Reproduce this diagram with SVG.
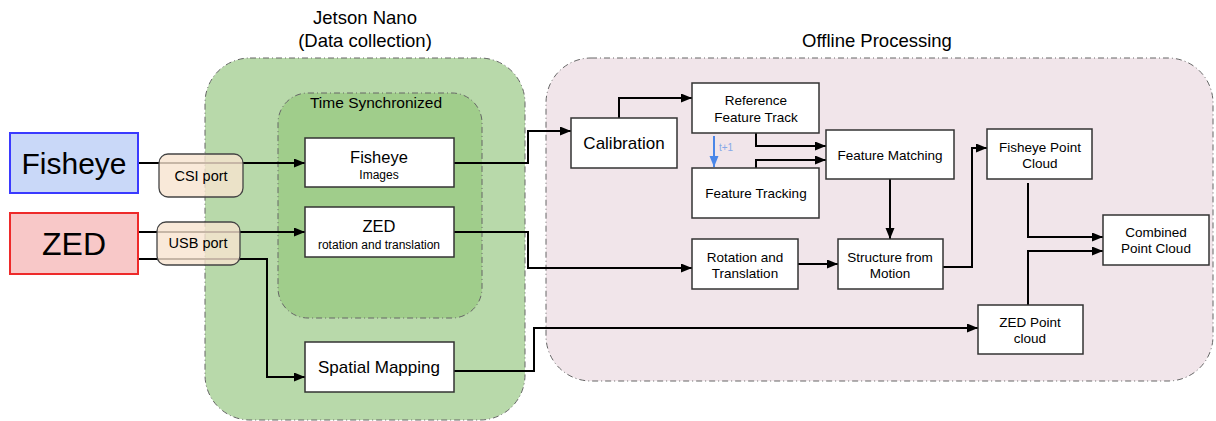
<svg xmlns="http://www.w3.org/2000/svg" width="1216" height="421" viewBox="0 0 1216 421">
<defs>
<marker id="ah" markerUnits="userSpaceOnUse" markerWidth="12" markerHeight="10" refX="11" refY="4.5" orient="auto"><path d="M0,0 L11,4.5 L0,9 z" fill="#000"/></marker>
<marker id="ahb" markerUnits="userSpaceOnUse" markerWidth="12" markerHeight="10" refX="11" refY="4.5" orient="auto"><path d="M0,0 L11,4.5 L0,9 z" fill="#4a86e8"/></marker>
</defs>
<style>
text{font-family:"Liberation Sans",Arial,sans-serif;fill:#000;text-anchor:middle}
.region{stroke:#666;stroke-width:1;stroke-dasharray:6 3 1 3}
.box{fill:#fff;stroke:#333;stroke-width:1.5}
.port{fill:#f8e4d0;fill-opacity:0.8;stroke:#444;stroke-width:1.3}
.c{fill:none;stroke:#000;stroke-width:2;marker-end:url(#ah)}
.t13{font-size:13.5px}
</style>
<g id="regions">
<rect class="region" x="205" y="58" width="320" height="362" rx="45" fill="#b8d9aa"/>
<rect class="region" x="278" y="93" width="204" height="225" rx="30" fill="#a0cd8b"/>
<rect class="region" x="546" y="58" width="667" height="323" rx="45" fill="#f1e5ea"/>
<text x="365" y="24" font-size="18.5">Jetson Nano</text>
<text x="365" y="47" font-size="18.5">(Data collection)</text>
<text x="376" y="108" font-size="15.5">Time Synchronized</text>
<text x="877" y="47" font-size="18.5">Offline Processing</text>
</g>
<g id="connectors">
<path class="c" d="M138,163 H305"/>
<path class="c" d="M138,232 H305"/>
<path class="c" d="M138,259 H267 V377 H305"/>
<path class="c" d="M454,163 H528 V131 H571"/>
<path class="c" d="M454,232 H528 V268 H692"/>
<path class="c" d="M454,371 H534 V328 H978"/>
<path class="c" d="M619,118 V98 H692"/>
<path class="c" d="M756,133 V146 H826"/>
<path class="c" d="M756,168 V160 H826"/>
<path d="M714,136 V167" fill="none" stroke="#4a86e8" stroke-width="2" marker-end="url(#ahb)"/>
<text x="719" y="151" font-size="10" style="fill:#86a9e8;text-anchor:start">t+1</text>
<path class="c" d="M890,179 V239"/>
<path class="c" d="M798,264 H838"/>
<path class="c" d="M943,267 H972 V148 H987"/>
<path class="c" d="M1028,183 V237 H1103"/>
<path class="c" d="M1028,305 V251 H1103"/>
</g>
<g id="csi-port"><rect class="port" x="159" y="154" width="84" height="43" rx="9"/><text x="201" y="181" font-size="14.5">CSI port</text></g>
<g id="usb-port"><rect class="port" x="157" y="222" width="83" height="43" rx="9"/><text x="198" y="248" font-size="14.5">USB port</text></g>
<g id="fisheye-cam"><rect x="10" y="133" width="128" height="60" fill="#c9d8f8" stroke="#3a3aff" stroke-width="2"/><text x="74" y="174" font-size="30">Fisheye</text></g>
<g id="zed-cam"><rect x="10" y="213" width="128" height="61" fill="#f8c8c8" stroke="#ee2a2a" stroke-width="2"/><text x="74" y="255" font-size="32">ZED</text></g>
<g id="fisheye-images"><rect class="box" x="305" y="138" width="149" height="49"/><text x="379" y="163" font-size="16.5">Fisheye</text><text x="379" y="179" font-size="12">Images</text></g>
<g id="zed-rt"><rect class="box" x="305" y="207" width="149" height="50"/><text x="379" y="232" font-size="16.5">ZED</text><text x="379" y="249" font-size="12">rotation and translation</text></g>
<g id="spatial-mapping"><rect class="box" x="305" y="342" width="149" height="50"/><text x="379" y="373" font-size="17">Spatial Mapping</text></g>
<g id="calibration"><rect class="box" x="571" y="118" width="106" height="50"/><text x="624" y="149" font-size="17">Calibration</text></g>
<g id="ref-track"><rect class="box" x="692" y="83" width="127" height="50"/><text class="t13" x="756" y="105">Reference</text><text class="t13" x="756" y="122">Feature Track</text></g>
<g id="feature-tracking"><rect class="box" x="692" y="168" width="127" height="50"/><text class="t13" x="756" y="198">Feature Tracking</text></g>
<g id="feature-matching"><rect class="box" x="826" y="130" width="128" height="49"/><text class="t13" x="890" y="160">Feature Matching</text></g>
<g id="rot-trans"><rect class="box" x="692" y="239" width="106" height="50"/><text class="t13" x="745" y="262">Rotation and</text><text class="t13" x="745" y="278">Translation</text></g>
<g id="sfm"><rect class="box" x="838" y="239" width="105" height="50"/><text class="t13" x="890" y="262">Structure from</text><text class="t13" x="890" y="278">Motion</text></g>
<g id="fisheye-pc"><rect class="box" x="987" y="129" width="105" height="50"/><text class="t13" x="1040" y="152">Fisheye Point</text><text class="t13" x="1040" y="168">Cloud</text></g>
<g id="combined-pc"><rect class="box" x="1103" y="215" width="106" height="50"/><text class="t13" x="1156" y="237">Combined</text><text class="t13" x="1156" y="253">Point Cloud</text></g>
<g id="zed-pc"><rect class="box" x="978" y="305" width="105" height="49"/><text class="t13" x="1030" y="327">ZED Point</text><text class="t13" x="1030" y="343">cloud</text></g>
</svg>
